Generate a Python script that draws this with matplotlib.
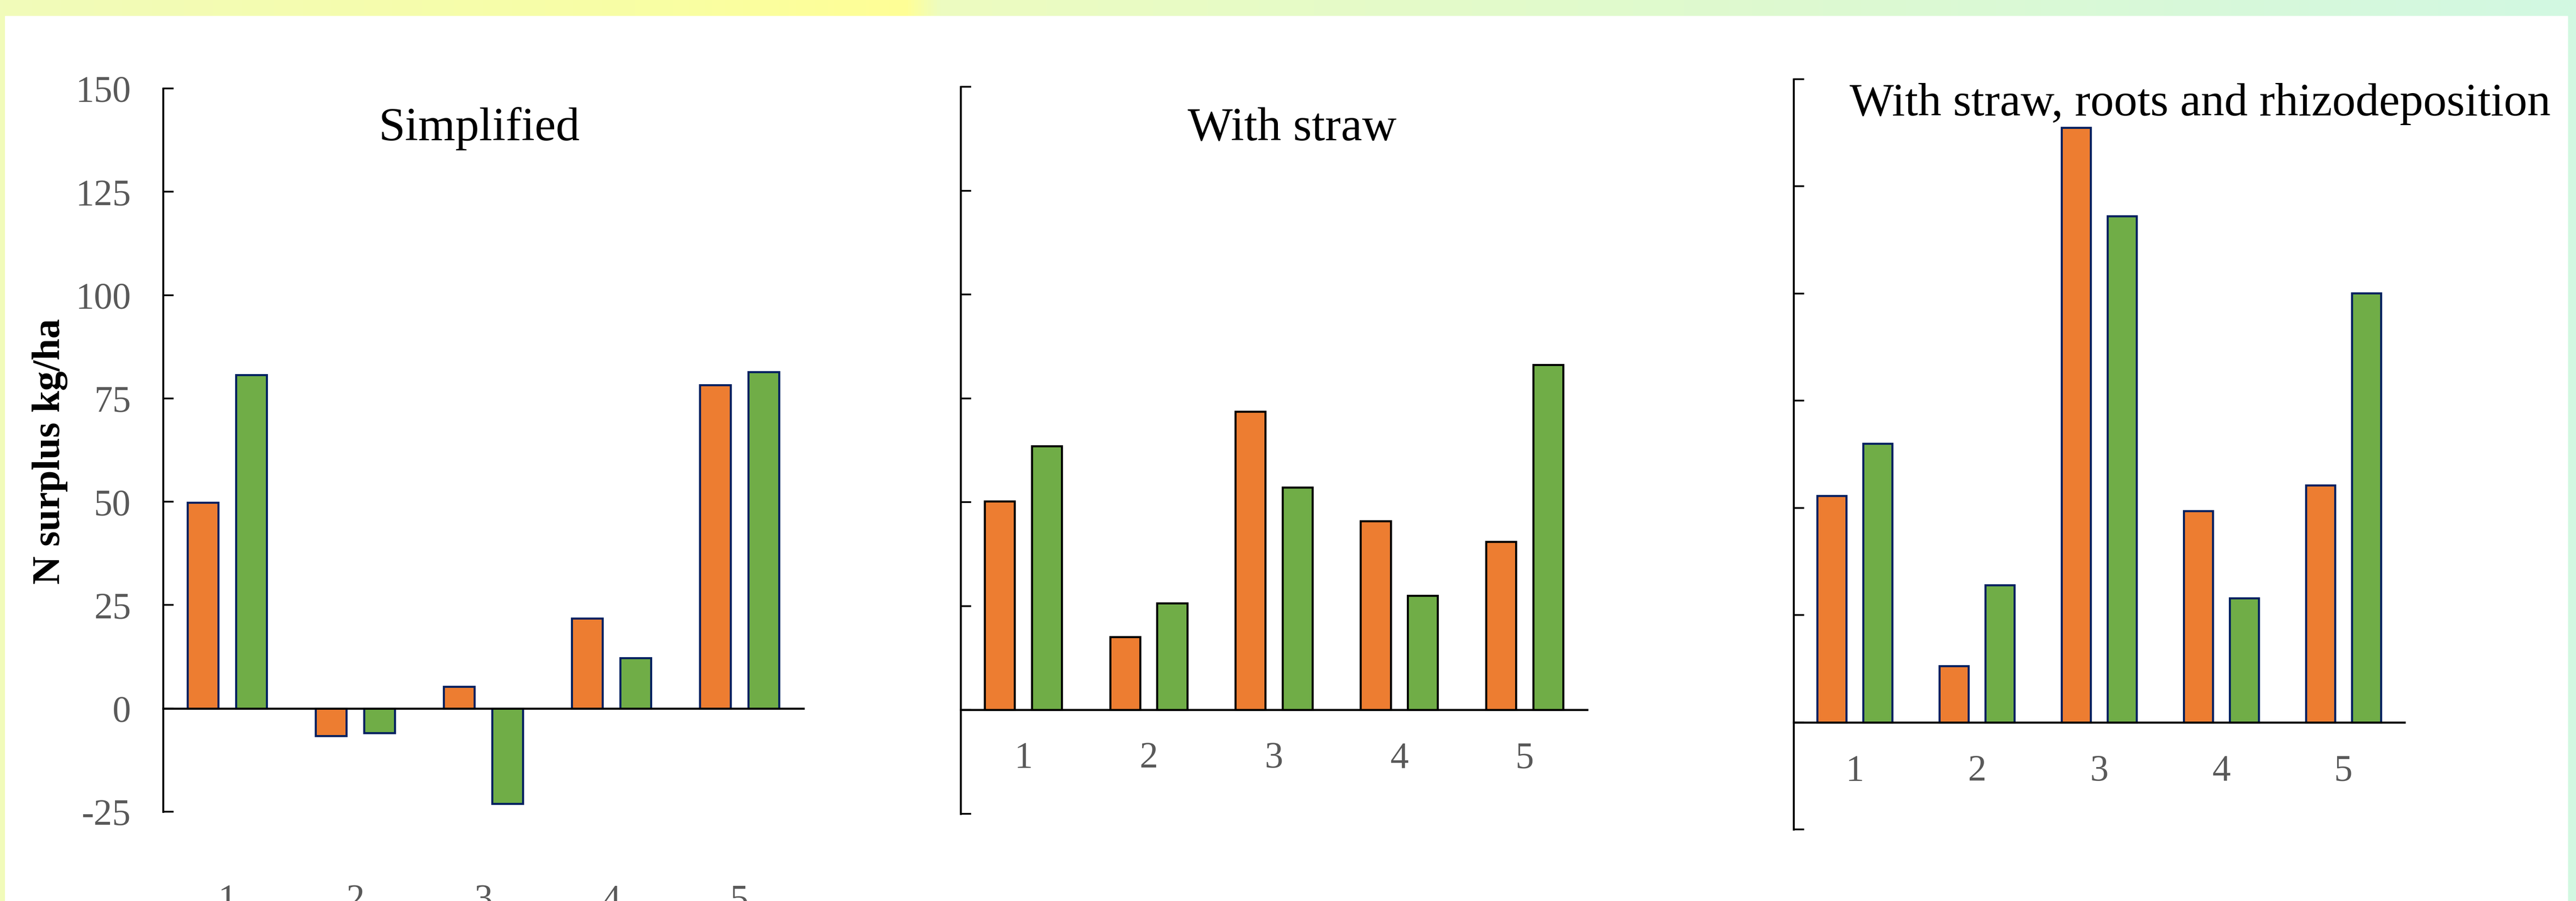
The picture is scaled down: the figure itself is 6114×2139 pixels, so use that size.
import numpy as np
import matplotlib
matplotlib.use("Agg")
import matplotlib.pyplot as plt
from matplotlib.patches import Rectangle

plt.rcParams['font.family'] = ['Liberation Serif', 'DejaVu Serif']
plt.rcParams['axes.unicode_minus'] = False

# N surplus (kg/ha) per site, two scenarios per site
sites = ['1', '2', '3', '4', '5']
simplified_a = [49.8, -6.7, 5.3, 21.8, 78.2]
simplified_b = [80.7, -5.9, -23.1, 12.2, 81.4]
straw_a = [50.2, 17.6, 71.8, 45.5, 40.5]
straw_b = [63.5, 25.7, 53.6, 27.5, 83.1]
full_a = [52.8, 13.1, 138.7, 49.3, 55.3]
full_b = [65.0, 32.0, 118.1, 28.9, 100.1]

titles = ['Simplified', 'With straw', 'With straw, roots and rhizodeposition']
ylabel = 'N surplus kg/ha'
yticks = [-25, 0, 25, 50, 75, 100, 125, 150]

ORANGE = '#ED7D31'
GREEN = '#70AD47'
NAVY = '#002060'
GREY = '#595959'

W, H = 6114, 2139
fig = plt.figure(figsize=(W / 100, H / 100), dpi=100)

# gradient frame behind a white card
bg = fig.add_axes([0, 0, 1, 1])
xs = np.linspace(0, W, 800)
stops_x = [0, 1500, 2150, 2230, 4000, W]
stops_c = np.array([[241, 251, 186], [248, 254, 165], [255, 255, 150],
                    [237, 252, 192], [223, 250, 206], [210, 248, 226]]) / 255
row = np.stack([np.interp(xs, stops_x, stops_c[:, k]) for k in range(3)], axis=-1)
grad = np.repeat(row[None, :, :], 20, axis=0)
bg.imshow(grad, extent=[0, W, H, 0], aspect='auto')
bg.add_patch(Rectangle((12, 38), W - 32, H - 38, color='white'))
bg.set_xlim(0, W)
bg.set_ylim(H, 0)
bg.axis('off')

# panel boxes in pixels: left, right, top (y=150), bottom (y=-25)
boxes = [(387, 1907, 210, 1927), (2280, 3767, 206, 1932), (4257, 5707, 188, 1969)]
edges = [NAVY, 'black', NAVY]
series = [(simplified_a, simplified_b), (straw_a, straw_b), (full_a, full_b)]
xpads = [300, 54, 55]
title_pos = [(1137, 333), (3067, 333), (5222, 274)]
title_size = [81.5, 81.5, 80]

x = np.arange(1, len(sites) + 1)
w = 0.24
off = 0.188

for i, (l, r, t, b) in enumerate(boxes):
    ax = fig.add_axes([l / W, 1 - b / H, (r - l) / W, (b - t) / H])
    ax.patch.set_alpha(0)
    a_vals, b_vals = series[i]
    ax.bar(x - off, a_vals, w, color=ORANGE, edgecolor=edges[i], linewidth=3.5, zorder=2)
    ax.bar(x + off, b_vals, w, color=GREEN, edgecolor=edges[i], linewidth=3.5, zorder=2)
    ax.set_xlim(0.5, 5.5)
    ax.set_ylim(-25, 150)
    ax.spines['top'].set_visible(False)
    ax.spines['right'].set_visible(False)
    ax.spines['left'].set_linewidth(3.3)
    ax.spines['bottom'].set_position(('data', 0))
    ax.spines['bottom'].set_linewidth(3.5)
    ax.spines['bottom'].set_zorder(3)
    ax.set_yticks(yticks)
    ax.tick_params(axis='y', direction='in', length=18, width=3, pad=55,
                   labelsize=63, labelcolor=GREY, labelleft=(i == 0))
    ax.set_xticks(x, sites)
    ax.tick_params(axis='x', length=0, pad=xpads[i], labelsize=63, labelcolor=GREY)
    tx, ty = title_pos[i]
    fig.text(tx / W, 1 - ty / H, titles[i], ha='center', va='baseline',
             fontsize=title_size[i])

fig.text(119 / W, 1 - 1072 / H, ylabel, rotation=90, ha='center', va='center',
         fontsize=67, fontweight='bold')

fig.savefig('out.png', dpi=100)
